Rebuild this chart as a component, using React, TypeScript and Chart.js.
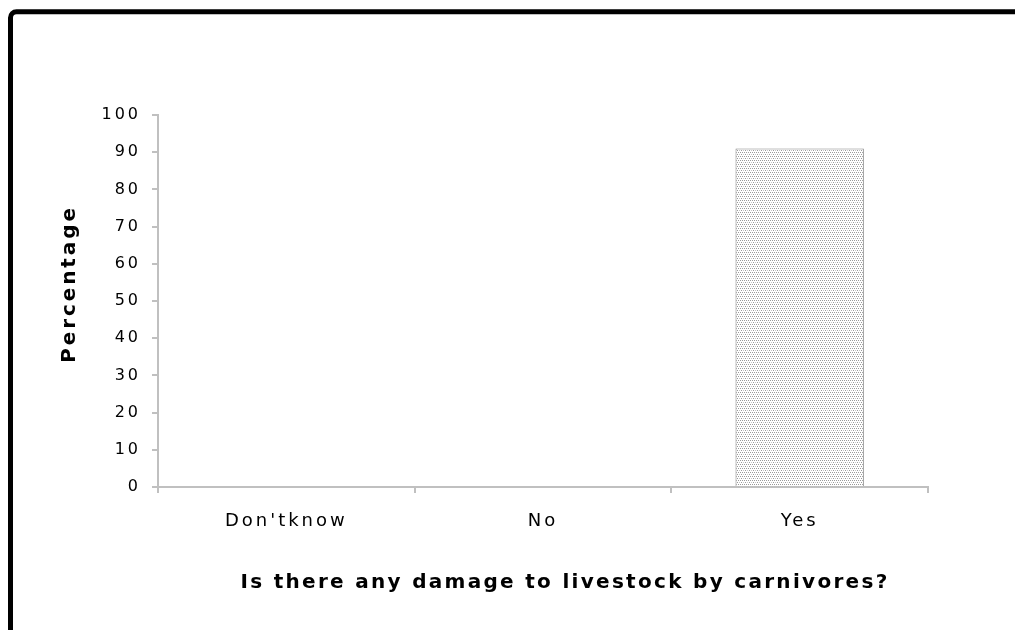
import React, { useEffect, useRef } from "react";
import { Chart, registerables } from "chart.js";

Chart.register(...registerables);

const categories = ["Don'tknow", "No", "Yes"];
const percentages = [0, 0, 91];
const yMin = 0;
const yMax = 100;
const yStep = 10;
const yAxisTitle = "Percentage";
const xAxisTitle = "Is there any damage to livestock by carnivores?";

function makePattern(): CanvasPattern | string {
  const c = document.createElement("canvas");
  c.width = 4;
  c.height = 4;
  const g = c.getContext("2d");
  if (!g) return "#ddd";
  g.fillStyle = "#ffffff";
  g.fillRect(0, 0, 4, 4);
  g.fillStyle = "#9a9a9a";
  g.fillRect(0, 0, 1, 1);
  g.fillRect(2, 0, 1, 1);
  g.fillRect(1, 2, 1, 1);
  g.fillStyle = "#c4c4c4";
  g.fillRect(3, 2, 1, 1);
  const p = g.createPattern(c, "repeat");
  return p || "#ddd";
}

const framePlugin = {
  id: "frameAndTitles",
  beforeDraw(chart: any) {
    const { ctx, width, height } = chart;
    ctx.save();
    ctx.fillStyle = "#fff";
    ctx.fillRect(0, 0, width, height);
    ctx.strokeStyle = "#000";
    ctx.lineWidth = 5;
    ctx.beginPath();
    ctx.moveTo(10.5, height + 5);
    ctx.lineTo(10.5, 18);
    ctx.arcTo(10.5, 11.8, 16.5, 11.8, 6);
    ctx.lineTo(width + 5, 11.8);
    ctx.stroke();
    ctx.restore();
    ctx.letterSpacing = "3px";
  },
  afterDraw(chart: any) {
    const { ctx, chartArea } = chart;
    ctx.save();
    ctx.fillStyle = "#000";
    ctx.font = "bold 20px 'DejaVu Sans'";
    ctx.letterSpacing = "2.3px";
    ctx.textAlign = "center";
    ctx.textBaseline = "middle";
    ctx.fillText(xAxisTitle, (chartArea.left + chartArea.right) / 2 + 22, chartArea.bottom + 96);
    ctx.translate(70, (chartArea.top + chartArea.bottom) / 2 - 17);
    ctx.rotate(-Math.PI / 2);
    ctx.letterSpacing = "2.9px";
    ctx.fillText(yAxisTitle, 0, 0);
    ctx.restore();
    ctx.letterSpacing = "0px";
  },
};

export default function App() {
  const ref = useRef<HTMLCanvasElement | null>(null);

  useEffect(() => {
    if (!ref.current) return;
    const chart = new Chart(ref.current, {
      type: "bar",
      data: {
        labels: categories,
        datasets: [
          {
            data: percentages,
            backgroundColor: makePattern() as any,
            borderColor: "#808080",
            borderWidth: 1,
            borderSkipped: "bottom",
            categoryPercentage: 1,
            barPercentage: 0.5,
          },
        ],
      },
      options: {
        responsive: false,
        animation: false,
        devicePixelRatio: 1,
        layout: { padding: { left: 0, top: 115, right: 87, bottom: 0 } },
        plugins: { legend: { display: false }, tooltip: { enabled: false } },
        scales: {
          x: {
            offset: true,
            grid: {
              offset: true,
              drawOnChartArea: false,
              drawTicks: true,
              tickLength: 6,
              color: "#c0c0c0",
              lineWidth: 2,
            },
            border: { color: "#c0c0c0", width: 2 },
            ticks: {
              color: "#000",
              padding: 18,
              font: { family: "'DejaVu Sans'", size: 18 },
              maxRotation: 0,
            },
            afterFit(scale: any) {
              scale.height = 143;
            },
          },
          y: {
            min: yMin,
            max: yMax,
            ticks: {
              stepSize: yStep,
              color: "#000",
              padding: 11,
              font: { family: "'DejaVu Sans'", size: 16 },
            },
            grid: {
              drawOnChartArea: false,
              drawTicks: true,
              tickLength: 6,
              color: "#c0c0c0",
              lineWidth: 2,
            },
            border: { color: "#c0c0c0", width: 2 },
            afterFit(scale: any) {
              scale.width = 158;
            },
          },
        },
      },
      plugins: [framePlugin],
    });
    return () => chart.destroy();
  }, []);

  return (
    <div style={{ position: "fixed", left: 0, top: 0, width: 1015, height: 630, background: "#fff", overflow: "hidden" }}>
      <canvas ref={ref} width={1015} height={630} style={{ position: "absolute", left: 0, top: 0 }} />
    </div>
  );
}
